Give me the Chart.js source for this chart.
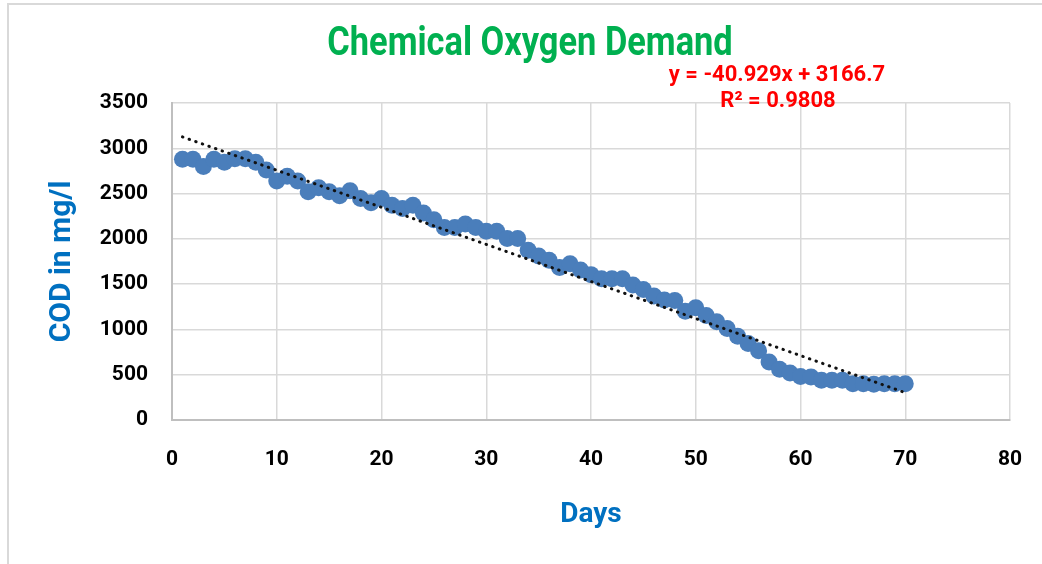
<!DOCTYPE html>
<html>
<head>
<meta charset="utf-8">
<script src="https://cdn.jsdelivr.net/npm/chart.js@4.4.1/dist/chart.umd.min.js"></script>
<style>
  html, body { margin: 0; padding: 0; background: #fff; }
  #wrap { width: 1042px; height: 564px; position: relative; }
</style>
</head>
<body>
<div id="wrap"><canvas id="codChart" width="1042" height="564"></canvas></div>
<script>
// COD readings per day
const days = [1, 2, 3, 4, 5, 6, 7, 8, 9, 10, 11, 12, 13, 14, 15, 16, 17, 18, 19, 20,
  21, 22, 23, 24, 25, 26, 27, 28, 29, 30, 31, 32, 33, 34, 35, 36, 37, 38, 39, 40,
  41, 42, 43, 44, 45, 46, 47, 48, 49, 50, 51, 52, 53, 54, 55, 56, 57, 58, 59, 60,
  61, 62, 63, 64, 65, 66, 67, 68, 69, 70];
const cod = [2880, 2880, 2800, 2880, 2845, 2885, 2885, 2845, 2760, 2640,
  2690, 2640, 2520, 2565, 2520, 2475, 2530, 2445, 2400, 2445,
  2370, 2335, 2370, 2285, 2210, 2125, 2125, 2165, 2125, 2085,
  2085, 2005, 2005, 1875, 1810, 1765, 1685, 1725, 1655, 1605,
  1560, 1560, 1560, 1490, 1440, 1370, 1325, 1320, 1200, 1240,
  1155, 1085, 1010, 925, 845, 765, 640, 560, 520, 480,
  475, 440, 440, 440, 400, 400, 395, 400, 400, 400];

// linear trendline end points (y = -40.929x + 3166.7)
const trendX = [1, 70];
const trendY = [3125.8, 301.7];
const trendLabel = ['y = -40.929x + 3166.7', 'R\u00b2 = 0.9808'];
const chartTitle = 'Chemical Oxygen Demand';

const face = "Roboto, 'Liberation Sans', sans-serif";

const extras = {
  id: 'extras',
  beforeDraw(chart) {
    const ctx = chart.ctx;
    ctx.save();
    ctx.strokeStyle = '#d9d9d9';
    ctx.lineWidth = 2;
    ctx.strokeRect(8, 4, 1100, 700);
    ctx.restore();
  },
  afterDraw(chart) {
    const ctx = chart.ctx;
    ctx.save();
    ctx.textAlign = 'center';
    ctx.textBaseline = 'middle';
    // title, squeezed a bit to look like a narrow face
    ctx.save();
    ctx.translate(530, 45);
    ctx.scale(0.86, 1);
    ctx.fillStyle = '#00b050';
    ctx.font = 'bold 40px ' + face;
    ctx.fillText(chartTitle, 0, 0);
    ctx.restore();
    // trendline equation
    ctx.fillStyle = '#ff0000';
    ctx.font = 'bold 22px ' + face;
    ctx.fillText(trendLabel[0], 777, 75);
    ctx.fillText(trendLabel[1], 778, 101);
    ctx.restore();
  }
};

new Chart(document.getElementById('codChart'), {
  type: 'scatter',
  data: {
    datasets: [
      {
        label: 'Linear (COD)',
        data: trendX.map((x, i) => ({ x, y: trendY[i] })),
        showLine: true,
        borderColor: '#111',
        borderWidth: 3,
        borderDash: [0.5, 6.5],
        borderCapStyle: 'round',
        pointRadius: 0,
        order: 0,
      },
      {
        label: 'COD',
        data: days.map((d, i) => ({ x: d, y: cod[i] })),
        backgroundColor: '#4a7ebb',
        borderColor: '#4a7ebb',
        borderWidth: 0,
        pointRadius: 8.5,
        order: 1,
      },
    ],
  },
  options: {
    responsive: false,
    animation: false,
    layout: { padding: { left: 0, right: 32, top: 103, bottom: 0 } },
    plugins: {
      legend: { display: false },
      tooltip: { enabled: false },
      title: { display: false },
    },
    scales: {
      x: {
        type: 'linear',
        min: 0,
        max: 80,
        afterFit(scale) { scale.height = 144; },
        ticks: {
          stepSize: 10,
          color: '#000',
          padding: 4,
          callback: (v) => String(v),
          font: { family: face, size: 21, weight: 'bold', lineHeight: 3.43 },
        },
        grid: { color: '#d9d9d9', lineWidth: 1.5, drawTicks: false },
        border: { color: '#bfbfbf', width: 2 },
        title: {
          display: true,
          text: 'Days',
          color: '#0070c0',
          font: { family: face, size: 28, weight: 'bold', lineHeight: 1.2 },
          padding: { top: 0, bottom: 32 },
        },
      },
      y: {
        min: 0,
        max: 3500,
        afterFit(scale) { scale.width = 172; },
        ticks: {
          stepSize: 500,
          color: '#000',
          padding: 24,
          callback: (v) => String(v),
          font: { family: face, size: 21, weight: 'bold' },
        },
        grid: { color: '#d9d9d9', lineWidth: 1.5, drawTicks: false },
        border: { color: '#bfbfbf', width: 2 },
        title: {
          display: true,
          text: 'COD in mg/l',
          color: '#0070c0',
          font: { family: face, size: 30, weight: 'bold', lineHeight: 1.2 },
          padding: { top: 44, bottom: 0 },
        },
      },
    },
  },
  plugins: [extras],
});
</script>
</body>
</html>
